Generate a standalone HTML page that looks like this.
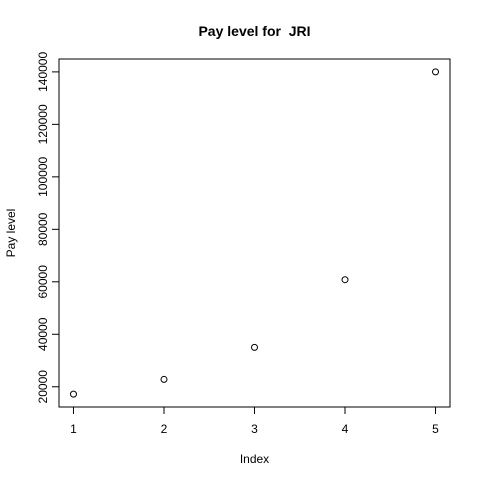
<!DOCTYPE html>
<html><head><meta charset="utf-8"><style>
body{margin:0;background:#fff}
svg{font-family:"Liberation Sans",Arial,sans-serif}
</style></head><body>
<svg id="c" width="480" height="480" viewBox="0 0 480 480">
<rect x="0" y="0" width="480" height="480" fill="#fff"/>
<text x="254.5" y="36" text-anchor="middle" font-size="14" font-weight="bold" style="white-space:pre">Pay level for  JRI</text>
<rect x="59" y="59" width="391" height="348" fill="none" stroke="#000" stroke-width="1"/>
<text x="254.5" y="463" text-anchor="middle" font-size="12">Index</text>
<text transform="translate(15,233) rotate(-90)" text-anchor="middle" font-size="12">Pay level</text>
<g id="ax"></g><g id="pts"></g>
</svg>
<script>
const xs=[1,2,3,4,5];
const pay=[17200,22800,35000,60800,140000];
const xTicks=[1,2,3,4,5];
const yTicks=[20000,40000,60000,80000,100000,120000,140000];
const L=59,R=450,T=59,B=407;
const xmin=1,xmax=5,ymin=Math.min(...pay),ymax=Math.max(...pay);
const xe=(xmax-xmin)*0.04,ye=(ymax-ymin)*0.04;
const X=v=>L+(v-(xmin-xe))/((xmax+xe)-(xmin-xe))*(R-L);
const Y=v=>B-(v-(ymin-ye))/((ymax+ye)-(ymin-ye))*(B-T);
const ns="http://www.w3.org/2000/svg";
const ax=document.getElementById('ax'),pts=document.getElementById('pts');
function mk(t,a,p){const e=document.createElementNS(ns,t);for(const k in a)e.setAttribute(k,a[k]);p.appendChild(e);return e;}
mk('line',{x1:X(xTicks[0]),x2:X(xTicks[xTicks.length-1]),y1:B,y2:B,stroke:'#000'},ax);
xTicks.forEach(v=>{
 const l=mk('line',{x1:X(v),x2:X(v),y1:B,y2:B+7,stroke:'#000'},ax);
 
 
 const t=mk('text',{x:X(v),y:B+26,'text-anchor':'middle','font-size':12},ax);t.textContent=v;
 
 
});
mk('line',{x1:L,x2:L,y1:Y(yTicks[0]),y2:Y(yTicks[yTicks.length-1]),stroke:'#000'},ax);
yTicks.forEach(v=>{
 const l=mk('line',{x1:L-7,x2:L,y1:Y(v),y2:Y(v),stroke:'#000'},ax);
 
 
 const t=mk('text',{transform:`translate(${L-12},${Y(v)}) rotate(-90)`,'text-anchor':'middle','font-size':12},ax);t.textContent=v;
 
 
});
xs.forEach((x,i)=>{
 const c=mk('circle',{cx:X(x),cy:Y(pay[i]),r:3,fill:'none',stroke:'#000','stroke-width':1},pts);
 
 
});
</script>
</body></html>
